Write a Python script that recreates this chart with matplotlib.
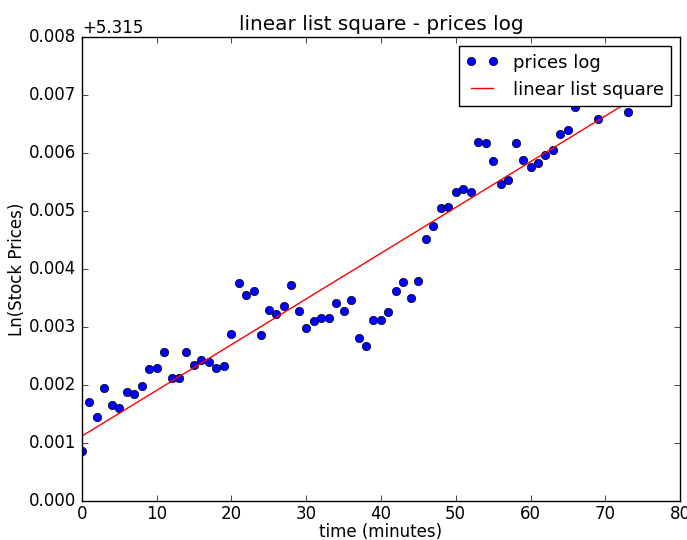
import numpy as np
import matplotlib
matplotlib.use("Agg")
import matplotlib.pyplot as plt

OFFSET = 5.315
time_min = [0, 1, 2, 3, 4, 5, 6, 7, 8, 9, 10, 11, 12, 13, 14, 15, 16, 17, 18, 19,
            20, 21, 22, 23, 24, 25, 26, 27, 28, 29, 30, 31, 32, 33, 34, 35, 36, 37, 38, 39,
            40, 41, 42, 43, 44, 45, 46, 47, 48, 49, 50, 51, 52, 53, 54, 55, 56, 57, 58, 59,
            60, 61, 62, 63, 64, 65, 66, 69, 73]
log_price_rel = [0.00087, 0.00171, 0.00145, 0.00195, 0.00166, 0.00160, 0.00188, 0.00184, 0.00198, 0.00228,
                 0.00229, 0.00257, 0.00212, 0.00212, 0.00257, 0.00234, 0.00243, 0.00240, 0.00229, 0.00233,
                 0.00288, 0.00376, 0.00355, 0.00362, 0.00286, 0.00329, 0.00322, 0.00336, 0.00372, 0.00328,
                 0.00298, 0.00310, 0.00316, 0.00316, 0.00341, 0.00328, 0.00347, 0.00281, 0.00267, 0.00312,
                 0.00312, 0.00326, 0.00362, 0.00378, 0.00350, 0.00379, 0.00452, 0.00474, 0.00505, 0.00508,
                 0.00533, 0.00538, 0.00533, 0.00619, 0.00617, 0.00586, 0.00547, 0.00553, 0.00617, 0.00588,
                 0.00576, 0.00583, 0.00597, 0.00605, 0.00634, 0.00640, 0.00679, 0.00659, 0.00671]
fit_intercept_rel = 0.00112
fit_slope = 0.0000789
fit_x_range = [0, 73]

plt.style.use('classic')
fig = plt.figure(figsize=(6.87, 5.40), dpi=100, facecolor='white')
ax = fig.add_axes([0.119, 0.072, 0.871, 0.859])

x = np.array(time_min)
y = OFFSET + np.array(log_price_rel)
ax.plot(x, y, 'bo', markersize=6, label='prices log')
fx = np.array(fit_x_range, dtype=float)
ax.plot(fx, OFFSET + fit_intercept_rel + fit_slope * fx, 'r-', label='linear list square')

ax.set_xlim(0, 80)
ax.set_ylim(OFFSET, OFFSET + 0.008)
ax.ticklabel_format(axis='y', useOffset=OFFSET)
ax.tick_params(axis='x', pad=3)
ax.set_xlabel('time (minutes)', labelpad=0)
ax.set_ylabel('Ln(Stock Prices)', labelpad=2)
ax.set_title('linear list square - prices log')
ax.legend(loc='upper right', numpoints=2, fontsize=13, handlelength=1.8)

fig.savefig('out.png', dpi=100, facecolor='white')
